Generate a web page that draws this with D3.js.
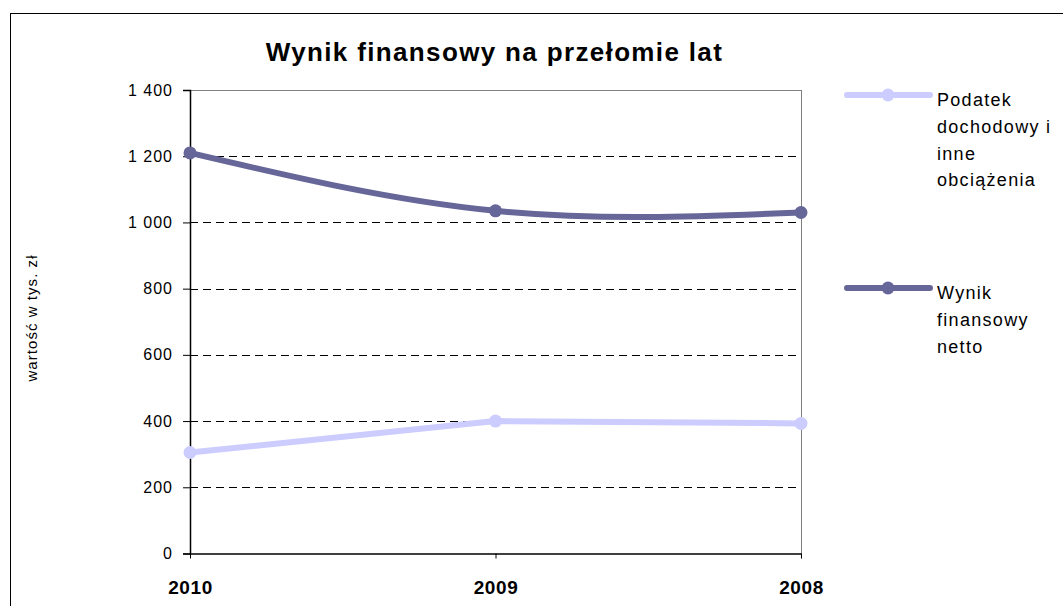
<!DOCTYPE html>
<html lang="pl">
<head>
<meta charset="utf-8">
<script src="https://cdn.jsdelivr.net/npm/d3@7"></script>
<style>
  html, body { margin: 0; padding: 0; background: #fff; }
  svg { display: block; font-family: "Liberation Sans", Arial, sans-serif; }
</style>
</head>
<body>
<svg id="chart" width="1063" height="606"></svg>
<script>
// Lata (kategorie osi X) – kolejność jak na wykresie
const years = ["2010", "2009", "2008"];
// Wartości serii w tys. zł
const podatek = [305, 400, 393];
const wynikNetto = [1210, 1035, 1030];
// Podziałka osi Y
const yTicks = [0, 200, 400, 600, 800, 1000, 1200, 1400];
// Nazwy serii (legenda, łamane na wiersze)
const podatekLabel = ["Podatek", "dochodowy i", "inne", "obciążenia"];
const wynikLabel = ["Wynik", "finansowy", "netto"];
const titleText = "Wynik finansowy na przełomie lat";
const yTitle = "wartość w tys. zł";

const colPodatek = "#CCCCFF";
const colWynik = "#666699";

const svg = d3.select("#chart");
const plot = { left: 190, right: 801, top: 90, bottom: 553.5 };

// ramka całego wykresu
svg.append("rect")
  .attr("x", 10.5).attr("y", 13.5)
  .attr("width", 1100).attr("height", 700)
  .attr("fill", "#fff").attr("stroke", "#000").attr("stroke-width", 1);

const x = d3.scalePoint().domain(years).range([plot.left, plot.right]).padding(0);
const y = d3.scaleLinear().domain([0, 1400]).range([plot.bottom, plot.top]);

// tytuł
svg.append("text")
  .attr("x", (plot.left + plot.right) / 2 - 1).attr("y", 61)
  .attr("text-anchor", "middle")
  .attr("font-size", 26).attr("font-weight", "bold")
  .attr("letter-spacing", 1.35)
  .text(titleText);

// linie siatki (przerywane)
svg.append("g")
  .selectAll("line")
  .data(yTicks.filter(d => d > 0 && d < 1400))
  .join("line")
  .attr("x1", plot.left).attr("x2", plot.right - 4)
  .attr("y1", d => Math.round(y(d)) + 0.5).attr("y2", d => Math.round(y(d)) + 0.5)
  .attr("stroke", "#000").attr("stroke-width", 1)
  .attr("stroke-dasharray", "8,5");

// górna i prawa krawędź obszaru wykresu
svg.append("line")
  .attr("x1", plot.left).attr("x2", plot.right)
  .attr("y1", plot.top + 0.5).attr("y2", plot.top + 0.5)
  .attr("stroke", "#808080").attr("stroke-width", 1);
svg.append("line")
  .attr("x1", plot.right + 0.5).attr("x2", plot.right + 0.5)
  .attr("y1", plot.top).attr("y2", plot.bottom + 5)
  .attr("stroke", "#808080").attr("stroke-width", 1);

// oś Y
const yAxis = svg.append("g")
  .attr("transform", `translate(${plot.left},0)`)
  .call(d3.axisLeft(y).tickValues(yTicks).tickSize(7).tickPadding(10)
    .tickFormat(d => d3.format(",")(d).replace(/,/g, " ")));
yAxis.select(".domain").attr("stroke", "#000").attr("stroke-width", 1.5);
yAxis.selectAll(".tick line").attr("stroke", "#000");
yAxis.selectAll(".tick text")
  .attr("font-size", 16).attr("letter-spacing", 1)
  .attr("font-family", "Liberation Sans, Arial, sans-serif")
  .attr("fill", "#000");

// oś X
const xAxis = svg.append("g")
  .attr("transform", `translate(0,${plot.bottom})`)
  .call(d3.axisBottom(x).tickSize(5).tickSizeOuter(0).tickPadding(22));
xAxis.select(".domain").attr("stroke", "#000").attr("stroke-width", 1.5);
xAxis.selectAll(".tick line").attr("stroke", "#000");
xAxis.selectAll(".tick text")
  .attr("font-size", 19).attr("font-weight", "bold").attr("letter-spacing", 0.6)
  .attr("font-family", "Liberation Sans, Arial, sans-serif")
  .attr("fill", "#000");

// tytuł osi Y
svg.append("text")
  .attr("transform", `translate(37,318) rotate(-90)`)
  .attr("text-anchor", "middle")
  .attr("font-size", 15).attr("letter-spacing", 1.05)
  .text(yTitle);

// serie: podatek łamaną, wynik netto linią wygładzoną
const series = [
  { values: podatek, color: colPodatek, curve: d3.curveLinear },
  { values: wynikNetto, color: colWynik, curve: d3.curveNatural }
];

series.forEach(s => {
  const line = d3.line()
    .x((d, i) => x(years[i]))
    .y(d => y(d))
    .curve(s.curve);
  svg.append("path")
    .datum(s.values)
    .attr("d", line)
    .attr("fill", "none")
    .attr("stroke", s.color)
    .attr("stroke-width", 6)
    .attr("stroke-linejoin", "round");
  svg.append("g")
    .selectAll("circle")
    .data(s.values)
    .join("circle")
    .attr("cx", (d, i) => x(years[i]))
    .attr("cy", d => y(d))
    .attr("r", 6.5)
    .attr("fill", s.color);
});

// legenda
const legend = [
  { label: podatekLabel, color: colPodatek, y: 95 },
  { label: wynikLabel, color: colWynik, y: 288 }
];
legend.forEach(l => {
  const g = svg.append("g");
  g.append("line")
    .attr("x1", 847).attr("x2", 930)
    .attr("y1", l.y).attr("y2", l.y)
    .attr("stroke", l.color).attr("stroke-width", 6)
    .attr("stroke-linecap", "round");
  g.append("circle")
    .attr("cx", 888).attr("cy", l.y).attr("r", 6.5)
    .attr("fill", l.color);
  g.append("text")
    .attr("font-size", 18).attr("letter-spacing", 1.3)
    .selectAll("tspan")
    .data(l.label)
    .join("tspan")
    .attr("x", 937)
    .attr("y", (d, i) => l.y + 11 + i * 26.8)
    .text(d => d);
});
</script>
</body>
</html>
